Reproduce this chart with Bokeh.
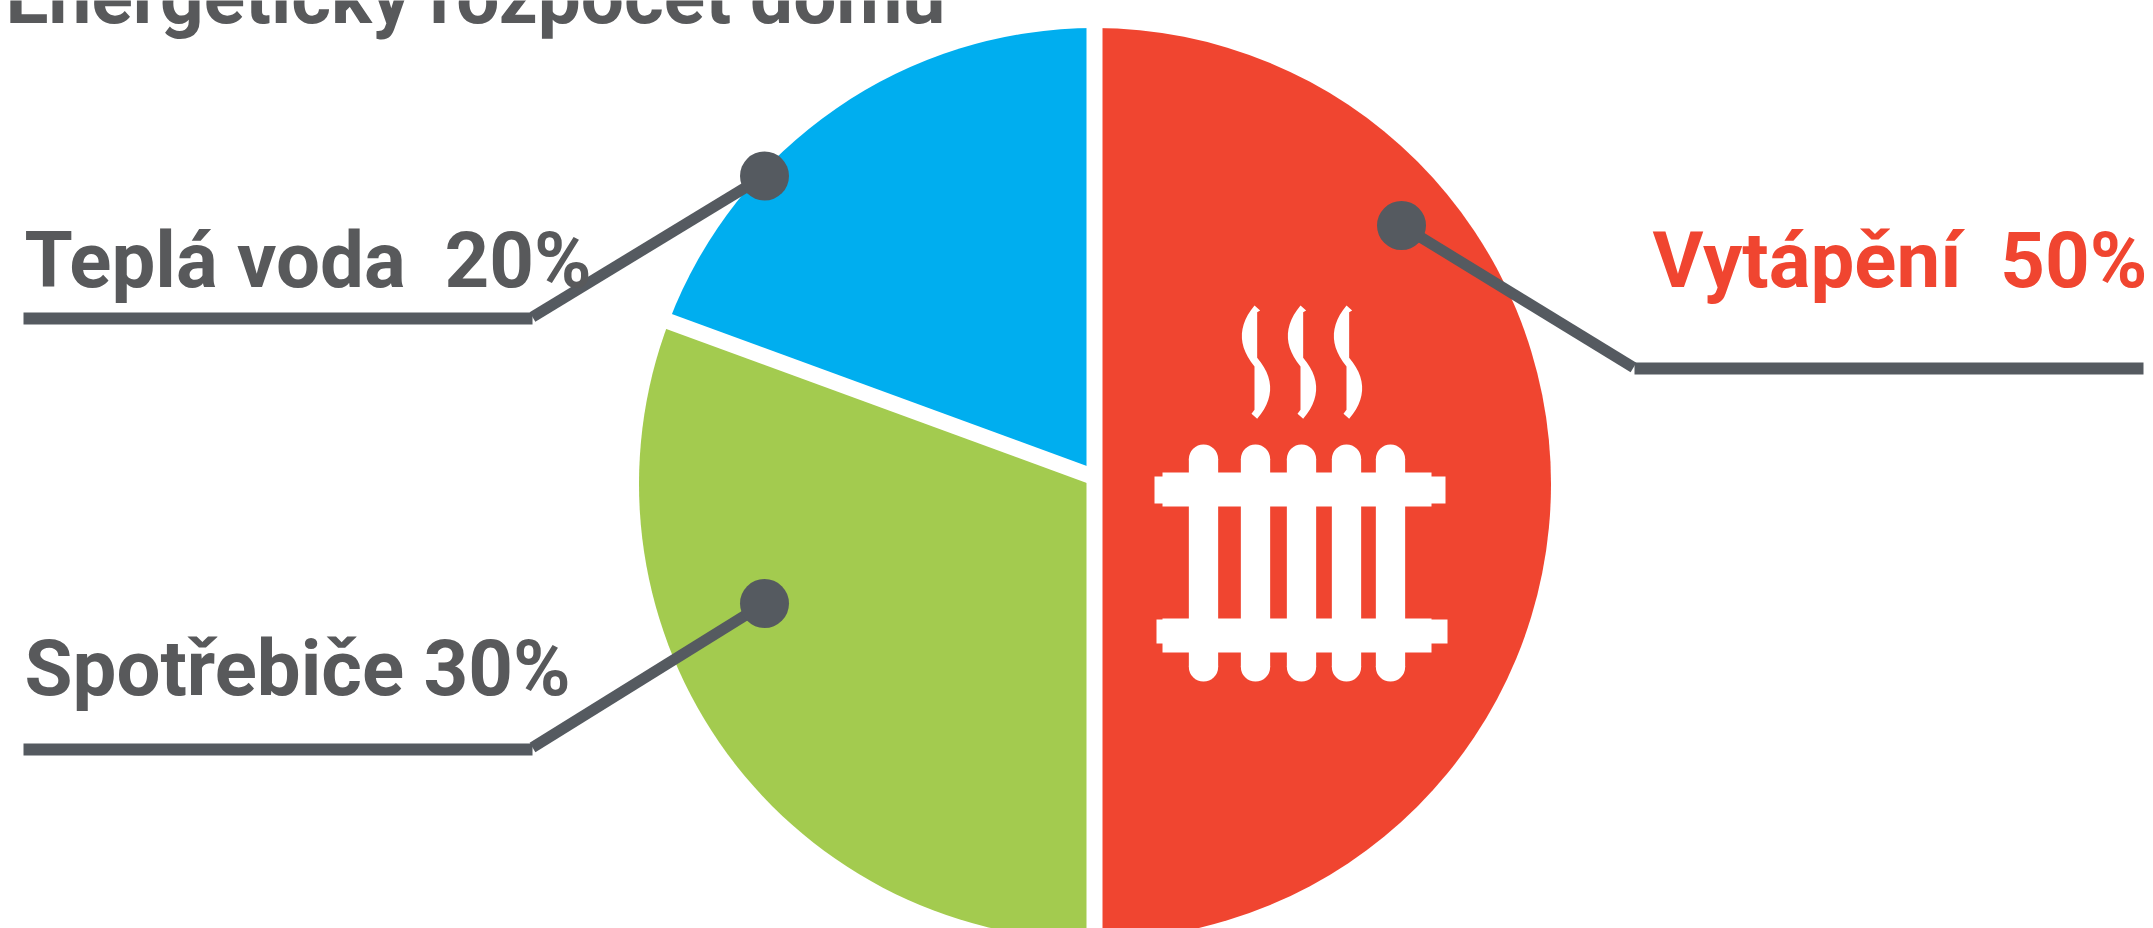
import numpy as np
from bokeh.plotting import figure
from bokeh.models import Range1d
from bokeh.core.properties import value
from bokeh.embed import file_html
from bokeh.resources import INLINE

# ---- chart content ----
title_text = "Energetický rozpočet domů"
categories = ["Vytápění", "Spotřebiče", "Teplá voda"]
label_pcts = [50, 30, 20]
label_texts = ["Vytápění \u00a050%", "Spotřebiče 30%", "Teplá voda \u00a020%"]
# slice shares as drawn in the picture (clockwise from the top)
slice_shares = [50.0, 30.8, 19.2]
slice_colors = ["#F04530", "#A3CB4F", "#00AEEF"]

GRAY_TEXT = "#58595B"
GRAY_LINE = "#555A60"
FONT = "Roboto"

CX, CY, R = 1094.5, 483.5, 456
W, H = 2153, 928

p = figure(width=W, height=H, output_backend="svg", toolbar_location=None,
           x_range=Range1d(0, W), y_range=Range1d(H, 0),
           x_axis_type=None, y_axis_type=None, min_border=0,
           outline_line_color=None, background_fill_color="white")
p.grid.visible = False

# ---- pie ----
starts, ends = [], []
ang = 90.0
for s in slice_shares:
    end = ang - s * 3.6
    starts.append(np.deg2rad(end))
    ends.append(np.deg2rad(ang))
    ang = end
p.wedge(x=[CX] * 3, y=[CY] * 3, radius=[R] * 3, start_angle=starts, end_angle=ends,
        fill_color=slice_colors, line_color=None)

# white separators between the slices
p.line(x=[CX - 0.5, CX - 0.5], y=[CY - R - 5, CY + R + 5], line_color="white", line_width=16, line_cap="butt")
rim = np.deg2rad(90 + slice_shares[2] * 3.6)
p.line(x=[CX + (R + 5) * np.cos(rim), CX], y=[CY - (R + 5) * np.sin(rim), CY - 6.5],
       line_color="white", line_width=16, line_cap="butt")

# ---- leader lines ----
dots_x = [1401, 764, 764]
dots_y = [225, 603, 175.5]
rules_x0 = [1634, 23, 23]
rules_x1 = [2143, 532, 532]
rules_y = [368, 749, 318]
elbow_x = [1633, 532, 532]
elbow_y = [367, 747, 316.5]
for i in range(3):
    p.line(x=[rules_x0[i], rules_x1[i]], y=[rules_y[i]] * 2, line_color=GRAY_LINE, line_width=12, line_cap="butt")
    p.line(x=[elbow_x[i], dots_x[i]], y=[elbow_y[i], dots_y[i]], line_color=GRAY_LINE, line_width=11, line_cap="butt")
p.circle(x=dots_x, y=dots_y, radius=24.5, fill_color=GRAY_LINE, line_color=None)

# ---- radiator icon ----
col_x = [1203, 1255, 1301, 1346, 1390]
col_w = 29.3
p.quad(left=[c - col_w / 2 for c in col_x], right=[c + col_w / 2 for c in col_x],
       top=[458.6] * 5, bottom=[666.4] * 5, fill_color="white", line_color=None)
p.circle(x=col_x, y=[458.6] * 5, radius=col_w / 2, fill_color="white", line_color=None)
p.circle(x=col_x, y=[666.4] * 5, radius=col_w / 2, fill_color="white", line_color=None)
p.quad(left=[1162, 1162, 1154, 1156], right=[1431, 1431, 1445, 1447],
       top=[472, 618, 476, 619], bottom=[506, 652, 503, 643], fill_color="white", line_color=None)

# steam wisps


def q(a, c, b, n=14):
    t = np.linspace(0, 1, n)[:, None]
    a, c, b = map(np.array, (a, c, b))
    return ((1 - t) ** 2 * a + 2 * t * (1 - t) * c + t ** 2 * b).tolist()


wisp = (q((462, 15), (386, 106), (462, 198))
        + [[462, 328], [453, 340]]
        + q((470, 355), (548, 263), (470, 172))
        + [[470, 35], [479, 30]])
wisp = np.array(wisp)
for k in range(3):
    p.patch(x=1100 + (wisp[:, 0] + 138 * k) / 3, y=300 + wisp[:, 1] / 3, fill_color="white", line_color=None)

# ---- texts ----
p.text(x=[5], y=[22], text=[title_text], text_font=value(FONT), text_font_style="bold",
       text_font_size="76.5px", text_color=GRAY_TEXT, text_baseline="alphabetic", text_align="left",
       y_offset=-26)
p.text(x=[1652, 24, 24], y=[287, 695, 287], text=label_texts, text_font=value(FONT), text_font_style="bold",
       text_font_size="78px", text_color=[slice_colors[0], GRAY_TEXT, GRAY_TEXT],
       text_baseline="alphabetic", text_align="left", y_offset=-27)

open("out.html", "w").write(file_html(p, INLINE))
